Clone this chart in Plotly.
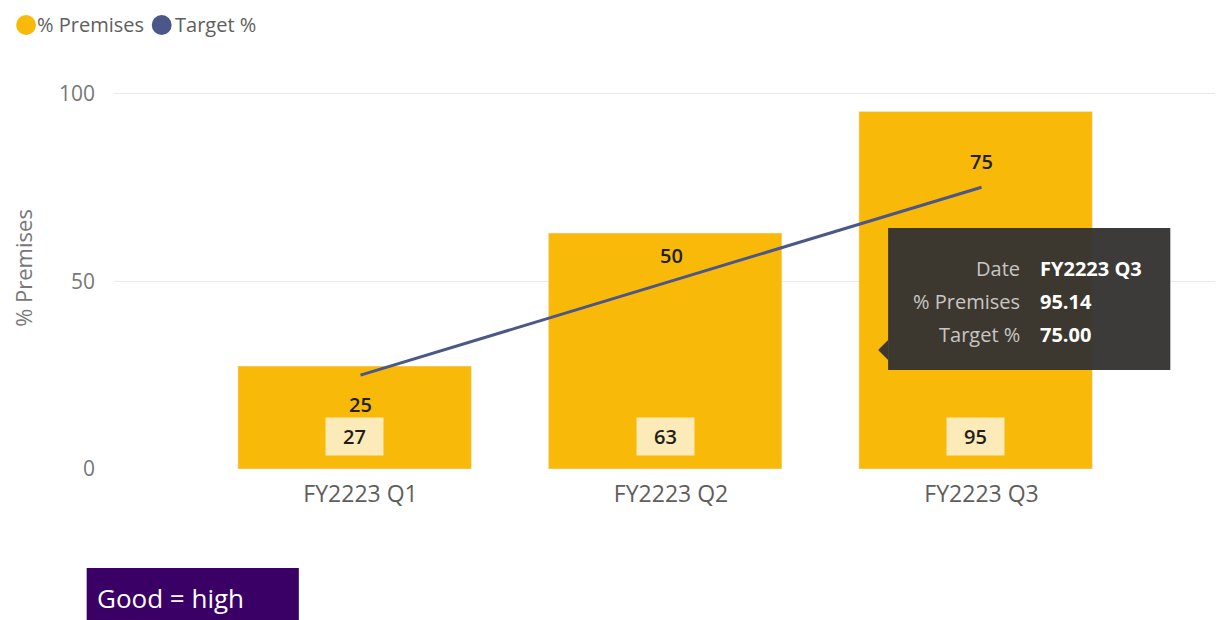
import plotly.graph_objects as go

categories = ["FY2223 Q1", "FY2223 Q2", "FY2223 Q3"]
premises = [27.4, 62.8, 95.14]
target = [25, 50, 75]
target_label_side = [-1, 1, 1]  # below / above the line point
y_ticks = [0, 50, 100]

BAR = "#F9B908"
NAVY = "#4B5689"
GRAY = "#605E5C"
FONT = "Segoe UI, Open Sans, sans-serif"

# reference-pixel geometry (layout only); page has a small body offset
OFFX, OFFY = 11, 8
W, H = 1223 - OFFX, 620 - OFFY
L, R, T, B = 110, 1223, 67, 469


def px2x(px):
    return (px - L) / (R - L)


def px2y(py):
    return (B - py) / (B - T)


fig = go.Figure()

fig.add_trace(go.Bar(
    x=categories, y=premises, marker_color=BAR, width=0.752, offset=-0.395,
    showlegend=False, hoverinfo="skip"))

fig.add_trace(go.Scatter(
    x=categories, y=target, mode="lines",
    line=dict(color=NAVY, width=3),
    showlegend=False, hoverinfo="skip"))

annotations = []
# line value labels
for c, v, s in zip(categories, target, target_label_side):
    annotations.append(dict(
        x=c, y=v, xref="x", yref="y", text=str(v), showarrow=False,
        yanchor="middle", yshift=26 if s > 0 else -29,
        font=dict(family=FONT, size=20, color="#201F1E", weight=600)))

# bar value labels
for c, v in zip(categories, premises):
    annotations.append(dict(
        x=c, y=0, xref="x", yref="y", text=f"{round(v)}", showarrow=False,
        xshift=-6, yshift=13, yanchor="bottom", width=55, height=35,
        bgcolor="#FCEBB8", font=dict(family=FONT, size=20, color="#201F1E", weight=600)))

# legend (manual, circles)
legend_items = [("% Premises", BAR, 21.5, 31), ("Target %", NAVY, 158, 169)]
shapes = []
for name, col, cx, tx in legend_items:
    shapes.append(dict(type="circle", xref="paper", yref="paper",
                       x0=px2x(cx - 10), x1=px2x(cx + 10), y0=px2y(35), y1=px2y(15),
                       fillcolor=col, line=dict(width=0)))
    annotations.append(dict(x=px2x(tx), y=px2y(25), xref="paper", yref="paper",
                            xanchor="left", yanchor="middle", showarrow=False,
                            text=name, font=dict(family=FONT, size=20, color=GRAY)))

# tooltip
TIP = "rgba(52,51,49,0.96)"
shapes.append(dict(type="rect", xref="paper", yref="paper",
                   x0=px2x(889), x1=px2x(1173), y0=px2y(370), y1=px2y(228),
                   fillcolor=TIP, line=dict(width=0)))
shapes.append(dict(type="path", xref="paper", yref="paper",
                   path=f"M {px2x(889)} {px2y(340)} L {px2x(879)} {px2y(350)} L {px2x(889)} {px2y(360)} Z",
                   fillcolor=TIP, line=dict(width=0)))
tip_rows = [("Date", categories[2]),
            ("% Premises", f"{premises[2]:.2f}"),
            ("Target %", f"{target[2]:.2f}")]
for i, (lab, val) in enumerate(tip_rows):
    yy = px2y(268 + 33 * i)
    annotations.append(dict(x=px2x(1024), y=yy, xref="paper", yref="paper",
                            xanchor="right", yanchor="middle", showarrow=False,
                            text=lab, font=dict(family=FONT, size=20, color="#C8C6C4")))
    annotations.append(dict(x=px2x(1040), y=yy, xref="paper", yref="paper",
                            xanchor="left", yanchor="middle", showarrow=False,
                            text=f"<b>{val}</b>", font=dict(family=FONT, size=20, color="#FFFFFF")))

# "Good = high" box
shapes.append(dict(type="rect", xref="paper", yref="paper",
                   x0=px2x(82.5), x1=px2x(296), y0=px2y(625), y1=px2y(568),
                   fillcolor="#3A0066", line=dict(width=0)))
annotations.append(dict(x=px2x(91), y=px2y(598), xref="paper", yref="paper",
                        xanchor="left", yanchor="middle", showarrow=False,
                        text="Good = high", font=dict(family=FONT, size=26, color="#FFFFFF")))

fig.update_layout(
    width=W, height=H,
    margin=dict(l=L - OFFX, r=W - (R - OFFX), t=T - OFFY, b=H - (B - OFFY), pad=0),
    paper_bgcolor="white", plot_bgcolor="white",
    font=dict(family=FONT, color=GRAY),
    showlegend=False,
    shapes=shapes, annotations=annotations,
    xaxis=dict(range=[-0.794, 2.768], showgrid=False, zeroline=False,
               showline=False, ticks="", tickfont=dict(size=23, color=GRAY),
               ticklabelstandoff=9),
    yaxis=dict(range=[0, 107], tickvals=y_ticks, showgrid=True,
               gridcolor="#E9E9E9", gridwidth=1, zeroline=False, showline=False,
               ticks="", tickfont=dict(size=21, color="#777777"),
               ticklabelstandoff=18,
               title=dict(text="% Premises", font=dict(size=22, color="#777777"),
                          standoff=36)),
)

fig.write_html("out.html")
